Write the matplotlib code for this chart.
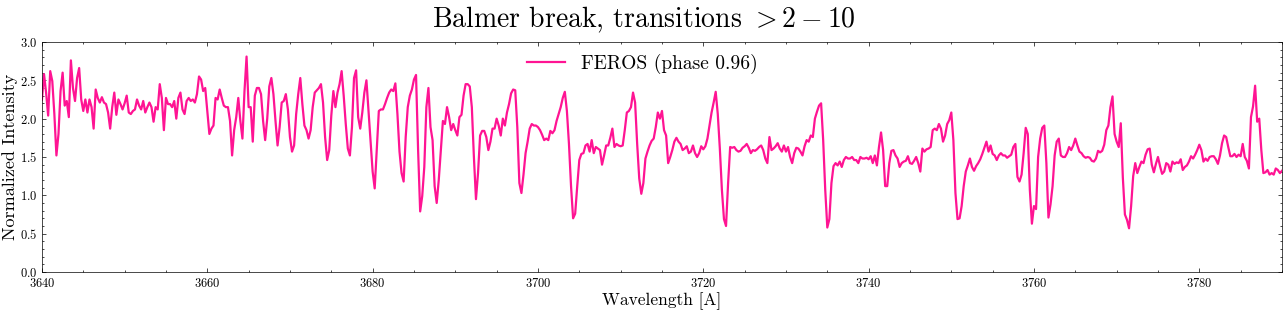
"""
	Balmer break plot - FEROS spectrum
"""
import numpy as np
import matplotlib
matplotlib.use('Agg')
import matplotlib.pyplot as plt
from matplotlib.ticker import MultipleLocator


# Normalized intensity, sampled every 0.25 A, one list per 10 A
flux_3640 = [2.25, 2.58, 2.34, 2.04, 2.62, 2.49, 2.06, 1.52, 1.80, 2.36,
			2.60, 2.17, 2.23, 2.02, 2.76, 2.40, 2.23, 2.53, 2.66, 2.25,
			2.10, 2.25, 2.08, 2.25, 2.15, 1.87, 2.38, 2.27, 2.21, 2.28,
			2.21, 2.19, 2.08, 1.87, 2.15, 2.34, 2.05, 2.25, 2.19, 2.12]

flux_3650 = [2.20, 2.30, 2.08, 2.06, 2.10, 2.12, 2.25, 2.17, 2.12, 2.23,
			2.08, 2.15, 2.21, 2.15, 1.96, 2.15, 2.12, 2.45, 2.27, 1.85,
			2.27, 2.19, 2.19, 2.15, 2.23, 2.00, 2.27, 2.34, 2.12, 2.06,
			2.23, 2.27, 2.23, 2.25, 2.21, 2.32, 2.55, 2.51, 2.36, 2.40]

flux_3660 = [2.10, 1.80, 1.87, 1.91, 2.27, 2.25, 2.38, 2.27, 2.17, 2.15,
			2.15, 1.97, 1.52, 1.85, 2.02, 2.27, 1.97, 1.74, 2.36, 2.81,
			2.15, 2.15, 1.70, 2.30, 2.40, 2.40, 2.32, 1.97, 1.72, 2.00,
			2.42, 2.53, 2.32, 1.97, 1.65, 1.89, 2.21, 2.23, 2.32, 2.12]

flux_3670 = [1.76, 1.57, 1.65, 2.06, 2.32, 2.53, 2.19, 1.91, 1.85, 1.74,
			1.85, 2.15, 2.34, 2.37, 2.40, 2.45, 2.21, 1.76, 1.46, 1.59,
			2.04, 2.36, 2.15, 2.34, 2.45, 2.62, 2.30, 1.93, 1.61, 1.52,
			1.89, 2.53, 2.63, 2.02, 1.87, 2.08, 2.34, 2.50, 2.10, 1.72]

flux_3680 = [1.31, 1.09, 1.59, 2.10, 2.12, 2.12, 2.19, 2.27, 2.34, 2.38,
			2.36, 2.46, 2.06, 1.57, 1.29, 1.18, 1.76, 2.15, 2.30, 2.38,
			2.51, 2.57, 1.59, 0.79, 0.99, 1.37, 2.15, 2.40, 1.89, 1.72,
			1.12, 0.90, 1.20, 1.59, 1.97, 1.93, 2.15, 2.02, 1.85, 1.93]

flux_3690 = [1.85, 1.78, 2.02, 2.05, 2.30, 2.45, 2.45, 2.42, 2.15, 1.50,
			0.95, 1.29, 1.78, 1.84, 1.84, 1.76, 1.59, 1.70, 1.87, 1.87,
			2.00, 1.91, 1.78, 2.00, 1.91, 2.08, 2.19, 2.33, 2.38, 2.37,
			1.89, 1.16, 1.03, 1.27, 1.55, 1.70, 1.87, 1.93, 1.91, 1.91]

flux_3700 = [1.89, 1.85, 1.79, 1.72, 1.74, 1.72, 1.84, 1.81, 1.85, 1.97,
			2.06, 2.15, 2.27, 2.35, 2.10, 1.67, 1.12, 0.70, 0.76, 1.12,
			1.46, 1.54, 1.55, 1.65, 1.67, 1.57, 1.72, 1.55, 1.63, 1.61,
			1.59, 1.40, 1.52, 1.65, 1.65, 1.75, 1.87, 1.63, 1.67, 1.65]

flux_3710 = [1.64, 1.65, 1.85, 2.08, 2.10, 2.15, 2.34, 2.21, 1.67, 1.22,
			1.02, 1.16, 1.48, 1.57, 1.65, 1.71, 1.74, 1.89, 2.08, 2.00,
			2.10, 1.85, 1.78, 1.42, 1.50, 1.59, 1.70, 1.75, 1.70, 1.67,
			1.59, 1.61, 1.64, 1.55, 1.57, 1.65, 1.55, 1.50, 1.55, 1.64]

flux_3720 = [1.60, 1.64, 1.74, 1.91, 2.08, 2.21, 2.35, 2.06, 1.61, 1.07,
			0.69, 0.60, 1.16, 1.63, 1.62, 1.63, 1.59, 1.57, 1.58, 1.62,
			1.64, 1.67, 1.62, 1.55, 1.59, 1.58, 1.60, 1.63, 1.65, 1.59,
			1.48, 1.42, 1.76, 1.59, 1.61, 1.64, 1.68, 1.61, 1.57, 1.65]

flux_3730 = [1.57, 1.63, 1.50, 1.42, 1.55, 1.62, 1.61, 1.57, 1.52, 1.64,
			1.72, 1.70, 1.78, 1.76, 2.00, 2.09, 2.17, 2.20, 1.72, 1.07,
			0.58, 0.69, 1.16, 1.38, 1.42, 1.39, 1.44, 1.37, 1.46, 1.50,
			1.48, 1.48, 1.50, 1.46, 1.46, 1.42, 1.50, 1.48, 1.48, 1.49]

flux_3740 = [1.47, 1.51, 1.42, 1.52, 1.39, 1.63, 1.82, 1.59, 1.12, 1.12,
			1.42, 1.58, 1.59, 1.52, 1.48, 1.37, 1.42, 1.44, 1.45, 1.51,
			1.42, 1.41, 1.45, 1.50, 1.42, 1.31, 1.61, 1.57, 1.60, 1.61,
			1.63, 1.85, 1.87, 1.85, 1.93, 1.87, 1.70, 1.78, 1.93, 1.98]

flux_3750 = [2.08, 1.72, 1.03, 0.69, 0.70, 0.86, 1.12, 1.31, 1.39, 1.48,
			1.37, 1.32, 1.38, 1.42, 1.47, 1.54, 1.62, 1.70, 1.57, 1.65,
			1.54, 1.52, 1.46, 1.52, 1.55, 1.52, 1.52, 1.49, 1.51, 1.53,
			1.63, 1.67, 1.24, 1.18, 1.27, 1.55, 1.88, 1.80, 1.07, 0.63]

flux_3760 = [0.86, 0.82, 1.50, 1.74, 1.88, 1.91, 1.42, 0.71, 0.88, 1.12,
			1.52, 1.70, 1.74, 1.52, 1.50, 1.50, 1.55, 1.63, 1.59, 1.65,
			1.74, 1.65, 1.57, 1.55, 1.51, 1.49, 1.50, 1.49, 1.45, 1.44,
			1.48, 1.58, 1.56, 1.58, 1.66, 1.85, 1.91, 2.15, 2.29, 1.80]

flux_3770 = [1.70, 1.63, 1.94, 1.23, 0.75, 0.68, 0.57, 0.86, 1.25, 1.42,
			1.29, 1.37, 1.44, 1.42, 1.53, 1.60, 1.61, 1.40, 1.30, 1.41,
			1.50, 1.38, 1.28, 1.31, 1.42, 1.40, 1.31, 1.44, 1.41, 1.43,
			1.42, 1.47, 1.33, 1.37, 1.39, 1.44, 1.51, 1.48, 1.53, 1.59]

# last block runs up to and including 3790 A
flux_3780 = [1.66, 1.59, 1.44, 1.48, 1.45, 1.50, 1.51, 1.51, 1.47, 1.41,
			1.52, 1.68, 1.78, 1.76, 1.63, 1.51, 1.51, 1.54, 1.50, 1.53,
			1.51, 1.67, 1.50, 1.45, 1.35, 2.02, 2.16, 2.43, 1.96, 2.00,
			1.59, 1.29, 1.30, 1.33, 1.27, 1.29, 1.27, 1.35, 1.33, 1.29,
			1.32]

block_starts = [3640, 3650, 3660, 3670, 3680, 3690, 3700, 3710,
				3720, 3730, 3740, 3750, 3760, 3770, 3780]

blocks = [flux_3640, flux_3650, flux_3660, flux_3670, flux_3680,
		flux_3690, flux_3700, flux_3710, flux_3720, flux_3730,
		flux_3740, flux_3750, flux_3760, flux_3770, flux_3780]

label = 'FEROS (phase 0.96)'
title = r'Balmer break, transitions $>2-10$'


def build_spectrum():
	"""
	Join the 10 A blocks into one wavelength / flux pair.
	"""
	wave = []
	flux = []
	for start, vals in zip(block_starts, blocks):
		last = start == block_starts[-1]
		wave.extend(np.linspace(start, start + 10, len(vals), endpoint=last))
		flux.extend(vals)
	return np.array(wave), np.array(flux)


def setup_style():
	"""
	LaTeX-ish look, ticks inside on all four sides.
	"""
	plt.rcParams['font.family'] = ['cmr10', 'DejaVu Serif']
	plt.rcParams['mathtext.fontset'] = 'cm'
	plt.rcParams['axes.formatter.use_mathtext'] = True
	plt.rcParams['axes.unicode_minus'] = False
	plt.rcParams['xtick.direction'] = 'in'
	plt.rcParams['ytick.direction'] = 'in'
	plt.rcParams['xtick.top'] = True
	plt.rcParams['ytick.right'] = True
	plt.rcParams['xtick.minor.visible'] = True
	plt.rcParams['ytick.minor.visible'] = True
	plt.rcParams['xtick.major.size'] = 3
	plt.rcParams['ytick.major.size'] = 3
	plt.rcParams['xtick.minor.size'] = 1.5
	plt.rcParams['ytick.minor.size'] = 1.5
	plt.rcParams['axes.linewidth'] = 0.5
	plt.rcParams['xtick.major.width'] = 0.5
	plt.rcParams['ytick.major.width'] = 0.5
	plt.rcParams['xtick.minor.width'] = 0.5
	plt.rcParams['ytick.minor.width'] = 0.5


def plot():
	wave, flux = build_spectrum()

	fig = plt.figure(figsize=(12.87, 3.18), dpi=100)
	ax = fig.add_axes([0.0326, 0.1447, 0.9635, 0.7233])

	# Plot
	ax.plot(wave, flux, color='#FF1493', lw=1.6, label=label)

	ax.set_xlim(3640, 3790)
	ax.set_ylim(0, 3.0)
	ax.xaxis.set_major_locator(MultipleLocator(20))
	ax.xaxis.set_minor_locator(MultipleLocator(5))
	ax.yaxis.set_major_locator(MultipleLocator(0.5))
	ax.yaxis.set_minor_locator(MultipleLocator(0.1))
	ax.tick_params(labelsize=9)

	ax.set_xlabel('Wavelength [A]', fontsize=12.5, labelpad=2)
	ax.set_ylabel('Normalized Intensity', fontsize=13, labelpad=1)
	fig.suptitle(title, fontsize=20, y=0.985)

	# legend sits a bit left of centre in the original
	ax.legend(loc='upper center', bbox_to_anchor=(0.484, 1.0), frameon=False,
			fontsize=14, handlelength=2.0, borderaxespad=0.2)

	fig.savefig('out.png', dpi=100)


setup_style()
plot()
